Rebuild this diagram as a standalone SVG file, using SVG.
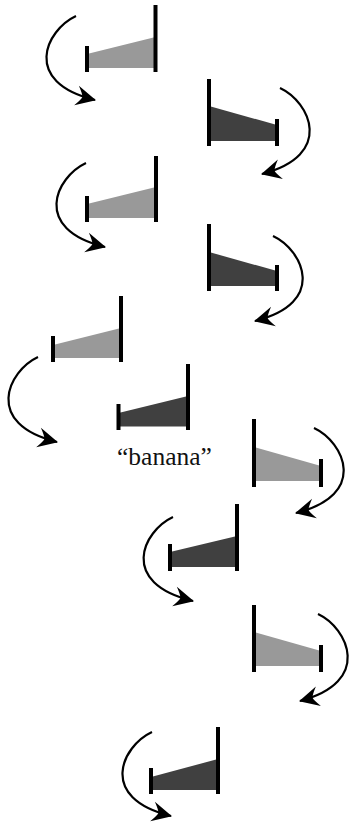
<svg xmlns="http://www.w3.org/2000/svg" width="350" height="824" viewBox="0 0 350 824">
<defs>
<style>
.bar{stroke:#000;stroke-width:4;fill:none}
.light{fill:#999999}
.dark{fill:#404040}
.arc{fill:none;stroke:#000;stroke-width:2.2;marker-end:url(#ah)}
.lbl{font-family:"Liberation Serif","Times New Roman",serif;font-size:25.5px;fill:#111}
</style>
<marker id="ah" markerUnits="userSpaceOnUse" viewBox="-22 -11 24 22" refX="0" refY="0" markerWidth="24" markerHeight="22" orient="auto" overflow="visible">
<path d="M1,0 L-19,-10 Q-13,-2 -13,0 Q-13,2 -19,10 Z" fill="#000"/>
</marker>
</defs>
<rect width="350" height="824" fill="#fff"/>

<g id="node1">
<polygon class="light" points="87,54 155.5,37 155.5,68 87,68"/>
<line class="bar" x1="87" y1="46" x2="87" y2="72"/>
<line class="bar" x1="155.5" y1="5" x2="155.5" y2="72"/>
</g>
<g id="node2">
<polygon class="dark" points="209,106 277,125 277,141 209,141"/>
<line class="bar" x1="209" y1="79" x2="209" y2="146"/>
<line class="bar" x1="277" y1="119" x2="277" y2="146"/>
</g>
<g id="node3">
<polygon class="light" points="87,204 156,187 156,218 87,218"/>
<line class="bar" x1="87" y1="196" x2="87" y2="222"/>
<line class="bar" x1="156" y1="156" x2="156" y2="222"/>
</g>
<g id="node4">
<polygon class="dark" points="209,252 277,271 277,286 209,286"/>
<line class="bar" x1="209" y1="224" x2="209" y2="291"/>
<line class="bar" x1="277" y1="265" x2="277" y2="291"/>
</g>
<g id="node5">
<polygon class="light" points="53,345 121,328 121,358 53,358"/>
<line class="bar" x1="53" y1="336" x2="53" y2="362"/>
<line class="bar" x1="121" y1="296" x2="121" y2="362"/>
</g>
<g id="node6">
<polygon class="dark" points="118.5,413 188,396 188,426.5 118.5,426.5"/>
<line class="bar" x1="118.5" y1="404" x2="118.5" y2="430"/>
<line class="bar" x1="188" y1="364" x2="188" y2="430"/>
<text class="lbl" x="117" y="465">“banana”</text>
</g>
<g id="node7">
<polygon class="light" points="254,447 321,466 321,481 254,481"/>
<line class="bar" x1="254" y1="419" x2="254" y2="487"/>
<line class="bar" x1="321" y1="459" x2="321" y2="487"/>
</g>
<g id="node8">
<polygon class="dark" points="170,552 237,536 237,567 170,567"/>
<line class="bar" x1="170" y1="544" x2="170" y2="571"/>
<line class="bar" x1="237" y1="504" x2="237" y2="571"/>
</g>
<g id="node9">
<polygon class="light" points="254,632 321,651 321,666 254,666"/>
<line class="bar" x1="254" y1="605" x2="254" y2="672"/>
<line class="bar" x1="321" y1="645" x2="321" y2="672"/>
</g>
<g id="node10">
<polygon class="dark" points="151,777 218,759 218,790 151,790"/>
<line class="bar" x1="151" y1="768" x2="151" y2="794"/>
<line class="bar" x1="218" y1="727" x2="218" y2="794"/>
</g>

<g id="connectors">
<path class="arc" d="M76,16 c-30,14 -55,66 19,84"/>
<path class="arc" d="M280,88 c30,14 55,67 -18,86"/>
<path class="arc" d="M86,163 c-30,14 -55,66 19,84"/>
<path class="arc" d="M273,236 c30,14 55,67 -18,85"/>
<path class="arc" d="M38,357 c-30,14 -55,67 19,85"/>
<path class="arc" d="M314,428 c30,14 55,67 -18,85"/>
<path class="arc" d="M173,517 c-30,14 -55,66 20,84"/>
<path class="arc" d="M318,614 c30,14 55,68 -18,87"/>
<path class="arc" d="M152,732 c-30,14 -55,66 19,84"/>
</g>
</svg>
